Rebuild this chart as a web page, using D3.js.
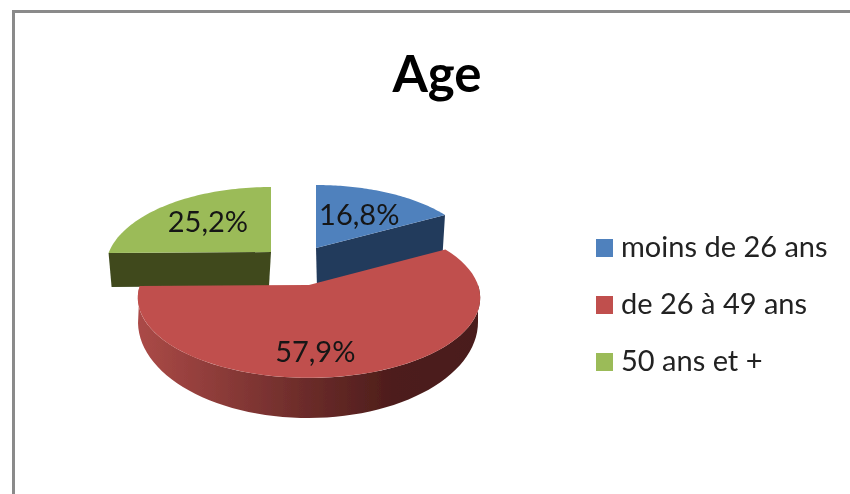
<!DOCTYPE html>
<html>
<head>
<meta charset="utf-8">
<script src="https://cdnjs.cloudflare.com/ajax/libs/d3/7.8.5/d3.min.js"></script>
<style>html,body{margin:0;padding:0;background:#fff;overflow:hidden}</style>
</head>
<body>
<script>
const title = "Age";
const categories = ["moins de 26 ans", "de 26 à 49 ans", "50 ans et +"];
const values = [16.8, 57.9, 25.2];
const topColors = ["#4f81bd", "#c0504d", "#9bbb59"];
const wallColors = ["#243b5c", null, "#3f4a1f"];

const W = 850, H = 494;
const rad = d => d * Math.PI / 180;
const svg = d3.select("body").append("svg").attr("width", W).attr("height", H)
  .style("display", "block").style("font-family", "Lato, 'Open Sans', sans-serif");

const defs = svg.append("defs");
defs.append("filter").attr("id", "soft").attr("x", "-5%").attr("y", "-5%").attr("width", "110%").attr("height", "110%")
  .append("feGaussianBlur").attr("stdDeviation", 0.5);
const grad = defs.append("linearGradient").attr("id", "redWall")
  .attr("gradientUnits", "userSpaceOnUse").attr("x1", 138).attr("x2", 480).attr("y1", 0).attr("y2", 0);
[[0, "#ab4a47"], [0.5, "#6a2b29"], [0.75, "#4d1d1b"], [1, "#4a1c1a"]]
  .forEach(([o, c]) => grad.append("stop").attr("offset", o).attr("stop-color", c));

// Perspective projection of a unit disc: angle is clockwise from 12 o'clock.
const project = (a, g, r = 1) => {
  const u = Math.sin(a) * r, v = Math.cos(a) * r, s = 1 / (1 + g.k * v);
  return [g.cx + g.R * u * s, g.cy - g.Ry * v * s];
};

// Exploded-slice geometry, per category.
const geom = [
  { top: { cx: 316, cy: 248, R: 158, Ry: 71.5, k: 0.135 }, bottom: { cx: 317, cy: 288, R: 154, Ry: 80, k: 0.135 }, lab: { a: null, r: 0.58 } },
  { top: { cx: 309, cy: 285, R: 169, Ry: 78, k: 0.16 }, bottom: { cx: 308, cy: 322, R: 170, Ry: 96, k: 0 }, lab: { a: rad(177.5), r: 0.75 } },
  { top: { cx: 271, cy: 252, R: 162, Ry: 77.5, k: 0.192 }, bottom: { cx: 269, cy: 286, R: 157, Ry: 77.5, k: 0.192 }, lab: { a: null, r: 0.59 } }
];

const pie = d3.pie().sort(null).startAngle(0).endAngle(2 * Math.PI);
const arcs = pie(values);
const line = d3.line();
const arcPts = (a0, a1, g) => d3.range(0, 61).map(i => project(a0 + (a1 - a0) * i / 60, g));

const root = svg.append("g").attr("filter", "url(#soft)");

// Frame
root.append("path").attr("d", d3.line()([[13.5, H + 5], [13.5, 11.5], [W + 5, 11.5]]))
  .attr("fill", "none").attr("stroke", "#8a8a8a").attr("stroke-width", 3);

// Draw order: green, blue, then red on top
[2, 0, 1].forEach(i => {
  const d = arcs[i], g = geom[i];
  if (i === 1) {
    const a0 = Math.max(d.startAngle, Math.PI / 2), a1 = Math.min(d.endAngle, 1.5 * Math.PI);
    const wall = [...arcPts(a0, a1, g.bottom), ...arcPts(a0, a1, g.top).reverse()];
    root.append("path").attr("d", line(wall) + "Z").attr("fill", "url(#redWall)");
  } else {
    const edge = i === 0 ? d.endAngle : d.startAngle;
    const wall = [[g.top.cx, g.top.cy], project(edge, g.top), project(edge, g.bottom), [g.bottom.cx, g.bottom.cy]];
    root.append("path").attr("d", line(wall) + "Z").attr("fill", wallColors[i]);
  }
  const topPts = [[g.top.cx, g.top.cy], ...arcPts(d.startAngle, d.endAngle, g.top)];
  root.append("path").attr("d", line(topPts) + "Z").attr("fill", topColors[i]);
});

// Value labels
const fmt = v => v.toFixed(1).replace(".", ",") + "%";
arcs.forEach((d, i) => {
  const g = geom[i], a = g.lab.a === null ? (d.startAngle + d.endAngle) / 2 : g.lab.a;
  const [x, y] = project(a, g.top, g.lab.r);
  root.append("text").attr("x", x).attr("y", y).attr("dy", "0.35em").attr("text-anchor", "middle")
    .attr("font-size", 29).attr("fill", "#151515").text(fmt(values[i]));
});

// Title
root.append("text").attr("x", 437).attr("y", 92).attr("text-anchor", "middle")
  .attr("font-size", 51).attr("font-weight", 700).attr("fill", "#000").text(title);

// Legend
const legendY = d3.scalePoint().domain(categories).range([248, 362]);
categories.forEach((c, i) => {
  const y = legendY(c);
  root.append("rect").attr("x", 596).attr("y", y - 9).attr("width", 17).attr("height", 18).attr("fill", topColors[i]);
  root.append("text").attr("x", 621).attr("y", y + 9).attr("font-size", 29).attr("fill", "#222").text(c);
});
</script>
</body>
</html>
